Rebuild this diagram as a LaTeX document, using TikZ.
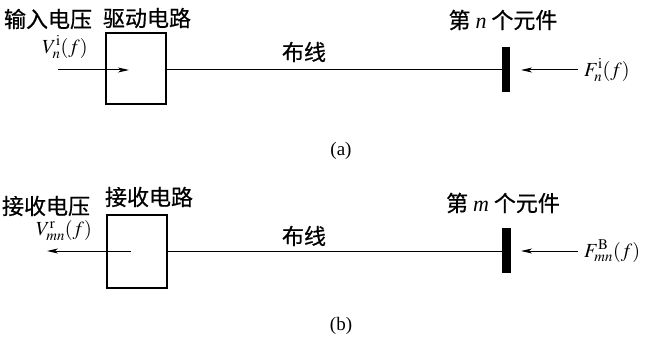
\documentclass[tikz,border=0pt]{standalone}
\usepackage{mathptmx}
\usepackage[no-math]{fontspec}
\setmainfont{Liberation Serif}
\newfontfamily\cjk{Noto Sans CJK SC}[FakeBold=0.6]
\usetikzlibrary{arrows.meta}
\begin{document}
\begin{tikzpicture}[x=1pt,y=-1pt,
  lbl/.style={font=\cjk\fontsize{22}{24}\selectfont, inner sep=0pt},
  mth/.style={font=\fontsize{20}{24}\selectfont, inner sep=0pt},
  captext/.style={font=\fontsize{19}{22}\selectfont, inner sep=0pt},
  circuit/.style={draw, line width=1.3pt, minimum width=60pt, minimum height=71pt, inner sep=0pt},
  elem/.style={fill=black, minimum width=8.5pt, minimum height=45pt, inner sep=0pt},
  wire/.style={line width=1pt},
  arr/.style={line width=1pt, -{Stealth[length=11pt,width=5pt,inset=3pt]}}]
\useasboundingbox (0,0) rectangle (647,339);
% (a)
\node[lbl] (inV) at (48,19) {输入电压};
\node[lbl] (drvL) at (147,18) {驱动电路};
\node[mth] (Vn) at (65,47) {$V_n^{\mathrm{i}}(f)$};
\node[circuit] (drv) at (136,68.5) {};
\node[lbl] (wireA) at (304,52) {布线};
\node[elem] (en) at (506,69.5) {};
\node[lbl] (enL) at (503,20) {第 {\rmfamily\itshape n} 个元件};
\node[mth, anchor=west] (Fn) at (584,70) {$F_n^{\mathrm{i}}(f)$};
\coordinate (a1) at (58,70);
\coordinate (a2) at (129,70);
\coordinate (a3) at (578,70);
\coordinate (a4) at (521,70);
\draw[arr] (a1) -- (a2);
\draw[wire] (drv.east |- a1) -- (en.west |- a1);
\draw[arr] (a3) -- (a4);
\node[captext] (capA) at (341,151) {(a)};
% (b)
\node[lbl] (rxV) at (46,206) {接收电压};
\node[lbl] (rxL) at (149,197) {接收电路};
\node[mth] (Vmn) at (64,231) {$V_{mn}^{\mathrm{r}}(f)$};
\node[circuit, minimum height=73pt] (rx) at (137,251.5) {};
\node[lbl] (wireB) at (304,236) {布线};
\node[elem] (em) at (506.5,250.5) {};
\node[lbl] (emL) at (503,203) {第 {\rmfamily\itshape m} 个元件};
\node[mth, anchor=west] (Fm) at (584,251) {$F_{mn}^{\mathrm{B}}(f)$};
\coordinate (b1) at (131,251);
\coordinate (b2) at (47,251);
\coordinate (b3) at (578,251);
\coordinate (b4) at (521,251);
\draw[arr] (b1) -- (b2);
\draw[wire] (rx.east |- b1) -- (em.west |- b1);
\draw[arr] (b3) -- (b4);
\node[captext] (capB) at (341,326) {(b)};
\end{tikzpicture}
\end{document}
